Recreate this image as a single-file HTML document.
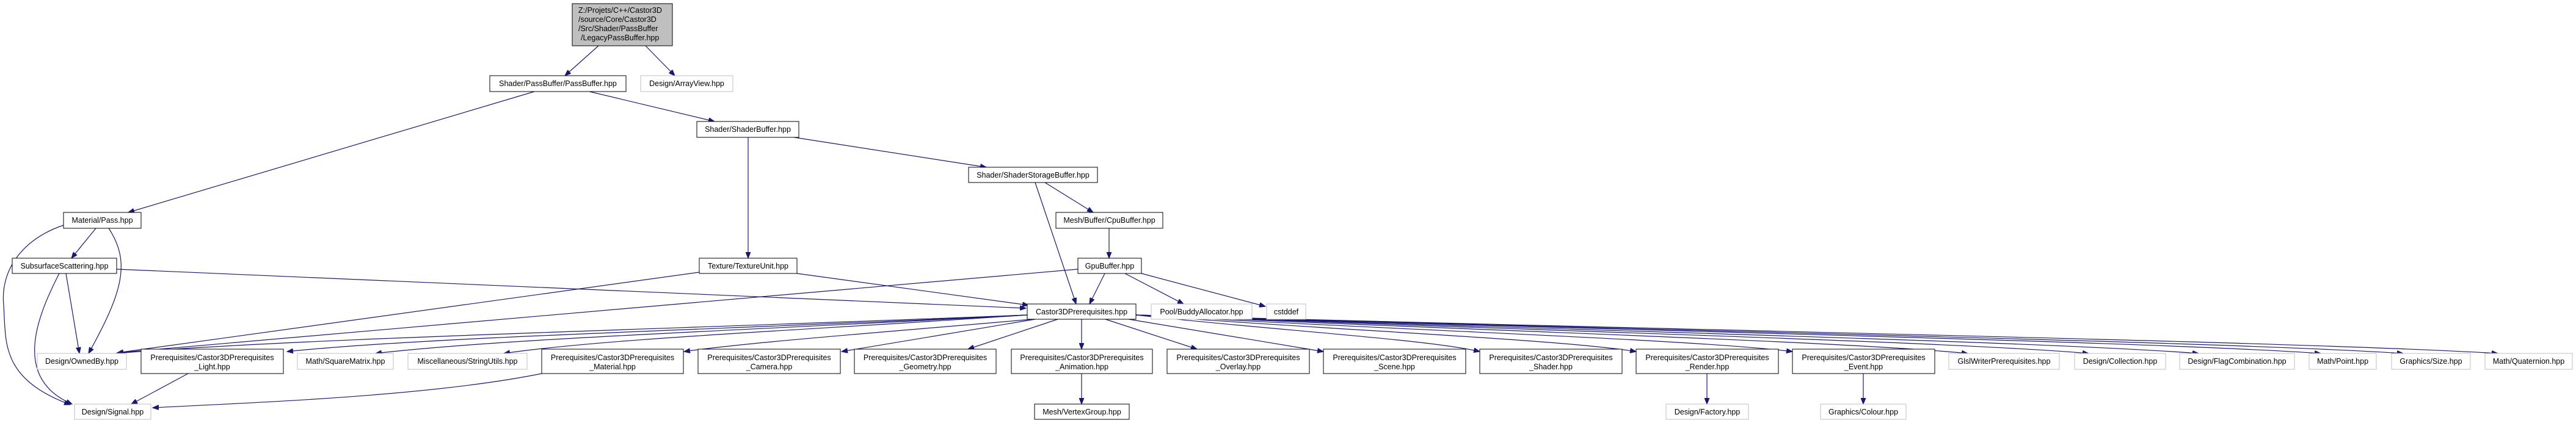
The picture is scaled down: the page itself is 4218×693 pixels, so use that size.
<!DOCTYPE html>
<html><head><meta charset="utf-8"><style>
html,body{margin:0;padding:0;background:#fff;width:4218px;height:693px;overflow:hidden}
svg{display:block}
text{font-family:"Liberation Sans",sans-serif;font-size:12.5px;fill:#000}
.b{fill:#fff;stroke:#000;stroke-width:1}
.g{fill:#fff;stroke:#bfbfbf;stroke-width:1}
.e{fill:none;stroke:#191970;stroke-width:1.2}
</style></head><body>
<svg width="4218" height="693" viewBox="0 0 4218 693" xmlns="http://www.w3.org/2000/svg">
<defs><marker id="a" markerUnits="userSpaceOnUse" markerWidth="11" markerHeight="8" refX="10" refY="4" orient="auto"><path d="M0,0 L10,4 L0,8 z" fill="#191970" stroke="#191970"/></marker></defs>
<g marker-end="url(#a)">
<path class="e" d="M980,75 L925,124"/>
<path class="e" d="M1057,75 L1105,124"/>
<path class="e" d="M965,150 L1170,199"/>
<path class="e" d="M875,150 L210,348"/>
<path class="e" d="M1225,225 L1225,423"/>
<path class="e" d="M1300,225 L1615,274"/>
<path class="e" d="M1695,299 L1762,498"/>
<path class="e" d="M1711,299 L1790,348"/>
<path class="e" d="M1816,374 L1816,423"/>
<path class="e" d="M1809,448 L1784,498"/>
<path class="e" d="M1842,448 L1938,498"/>
<path class="e" d="M1869,448 L2072,502"/>
<path class="e" d="M1765,441 L192,578"/>
<path class="e" d="M1145,446 L192,578"/>
<path class="e" d="M1305,448 L1684,500"/>
<path class="e" d="M191,441 L1680,505"/>
<path class="e" d="M157,374 L117,423"/>
<path class="e" d="M178,374 C215,430 200,480 145,579"/>
<path class="e" d="M104,369 C40,390 0,440 6,500 C10,560 0,620 115,663"/>
<path class="e" d="M108,448 L130,579"/>
<path class="e" d="M97,448 C60,520 20,620 118,662"/>
<path class="e" d="M308,612 L215,662"/>
<path class="e" d="M887,612 C700,650 400,660 250,668"/>
<path class="e" d="M1682,516 C1085,540 488,554 190,579"/>
<path class="e" d="M1682,516 C1197,540 712,551 470,576"/>
<path class="e" d="M1682,516 C1255,540 828,554 615,579"/>
<path class="e" d="M1682,516 C1339,540 996,554 825,579"/>
<path class="e" d="M1690,523 C1500,540 1230,560 1120,576"/>
<path class="e" d="M1695,523 L1378,576"/>
<path class="e" d="M1732,523 L1585,572"/>
<path class="e" d="M1771,523 L1771,572"/>
<path class="e" d="M1810,523 L1960,572"/>
<path class="e" d="M1848,523 L2167,576"/>
<path class="e" d="M1860,516 C2085,541 2339,556 2423,576"/>
<path class="e" d="M1860,516 C2188,541 2556,556 2679,576"/>
<path class="e" d="M1860,516 C2290,541 2774,556 2935,576"/>
<path class="e" d="M1860,516 C2405,541 3018,559 3222,579"/>
<path class="e" d="M1860,516 C2484,541 3186,559 3420,579"/>
<path class="e" d="M1860,516 C2556,541 3339,559 3600,579"/>
<path class="e" d="M1860,516 C2636,541 3509,559 3800,579"/>
<path class="e" d="M1860,516 C2690,541 3624,559 3935,579"/>
<path class="e" d="M1860,516 C2752,541 3755,559 4090,579"/>
<path class="e" d="M1771,612 L1771,662"/>
<path class="e" d="M2795,612 L2795,662"/>
<path class="e" d="M3051,612 L3051,662"/>
</g>
<!-- root -->
<rect x="937" y="6" width="164" height="69" fill="#bfbfbf" stroke="#000"/>
<text x="947" y="21">Z:/Projets/C++/Castor3D</text>
<text x="947" y="36">/source/Core/Castor3D</text>
<text x="947" y="51">/Src/Shader/PassBuffer</text>
<text x="951" y="66">/LegacyPassBuffer.hpp</text>
<!-- single line nodes -->
<rect class="b" x="802" y="124" width="223" height="26"/><text x="913.5" y="141" text-anchor="middle">Shader/PassBuffer/PassBuffer.hpp</text>
<rect class="g" x="1049" y="124" width="151" height="26"/><text x="1124.5" y="141" text-anchor="middle">Design/ArrayView.hpp</text>
<rect class="b" x="1141" y="199" width="167" height="26"/><text x="1224.5" y="216" text-anchor="middle">Shader/ShaderBuffer.hpp</text>
<rect class="b" x="1586" y="274" width="211" height="25"/><text x="1691.5" y="291" text-anchor="middle">Shader/ShaderStorageBuffer.hpp</text>
<rect class="b" x="1729" y="348" width="175" height="26"/><text x="1816.5" y="365" text-anchor="middle">Mesh/Buffer/CpuBuffer.hpp</text>
<rect class="b" x="104" y="348" width="127" height="26"/><text x="167.5" y="365" text-anchor="middle">Material/Pass.hpp</text>
<rect class="b" x="20" y="423" width="171" height="25"/><text x="105.5" y="440" text-anchor="middle">SubsurfaceScattering.hpp</text>
<rect class="b" x="1145" y="423" width="160" height="25"/><text x="1225" y="440" text-anchor="middle">Texture/TextureUnit.hpp</text>
<rect class="b" x="1765" y="423" width="104" height="25"/><text x="1817" y="440" text-anchor="middle">GpuBuffer.hpp</text>
<rect class="b" x="1682" y="498" width="178" height="25"/><text x="1771" y="515" text-anchor="middle">Castor3DPrerequisites.hpp</text>
<rect class="g" x="1885" y="498" width="165" height="25"/><text x="1967.5" y="515" text-anchor="middle">Pool/BuddyAllocator.hpp</text>
<rect class="g" x="2074" y="498" width="64" height="25"/><text x="2106" y="515" text-anchor="middle">cstddef</text>
<rect class="g" x="61" y="579" width="146" height="26"/><text x="134" y="596" text-anchor="middle">Design/OwnedBy.hpp</text>
<rect class="g" x="487" y="579" width="157" height="26"/><text x="565.5" y="596" text-anchor="middle">Math/SquareMatrix.hpp</text>
<rect class="g" x="668" y="579" width="195" height="26"/><text x="765.5" y="596" text-anchor="middle">Miscellaneous/StringUtils.hpp</text>
<rect class="g" x="3191" y="579" width="181" height="26"/><text x="3281.5" y="596" text-anchor="middle">GlslWriterPrerequisites.hpp</text>
<rect class="g" x="3397" y="579" width="149" height="26"/><text x="3471.5" y="596" text-anchor="middle">Design/Collection.hpp</text>
<rect class="g" x="3569" y="579" width="188" height="26"/><text x="3663" y="596" text-anchor="middle">Design/FlagCombination.hpp</text>
<rect class="g" x="3781" y="579" width="110" height="26"/><text x="3836" y="596" text-anchor="middle">Math/Point.hpp</text>
<rect class="g" x="3916" y="579" width="129" height="26"/><text x="3980.5" y="596" text-anchor="middle">Graphics/Size.hpp</text>
<rect class="g" x="4069" y="579" width="143" height="26"/><text x="4140.5" y="596" text-anchor="middle">Math/Quaternion.hpp</text>
<rect class="g" x="122" y="662" width="125" height="25"/><text x="184.5" y="679" text-anchor="middle">Design/Signal.hpp</text>
<rect class="b" x="1694" y="662" width="155" height="25"/><text x="1771.5" y="679" text-anchor="middle">Mesh/VertexGroup.hpp</text>
<rect class="g" x="2728" y="662" width="135" height="25"/><text x="2795.5" y="679" text-anchor="middle">Design/Factory.hpp</text>
<rect class="g" x="2981" y="662" width="140" height="25"/><text x="3051" y="679" text-anchor="middle">Graphics/Colour.hpp</text>
<!-- two line nodes -->
<rect class="b" x="231" y="572" width="233" height="40"/><text x="347.5" y="590" text-anchor="middle">Prerequisites/Castor3DPrerequisites</text><text x="347.5" y="605" text-anchor="middle">_Light.hpp</text>
<rect class="b" x="887" y="572" width="232" height="40"/><text x="1003" y="590" text-anchor="middle">Prerequisites/Castor3DPrerequisites</text><text x="1003" y="605" text-anchor="middle">_Material.hpp</text>
<rect class="b" x="1143" y="572" width="233" height="40"/><text x="1259.5" y="590" text-anchor="middle">Prerequisites/Castor3DPrerequisites</text><text x="1259.5" y="605" text-anchor="middle">_Camera.hpp</text>
<rect class="b" x="1399" y="572" width="232" height="40"/><text x="1515" y="590" text-anchor="middle">Prerequisites/Castor3DPrerequisites</text><text x="1515" y="605" text-anchor="middle">_Geometry.hpp</text>
<rect class="b" x="1656" y="572" width="231" height="40"/><text x="1771.5" y="590" text-anchor="middle">Prerequisites/Castor3DPrerequisites</text><text x="1771.5" y="605" text-anchor="middle">_Animation.hpp</text>
<rect class="b" x="1911" y="572" width="233" height="40"/><text x="2027.5" y="590" text-anchor="middle">Prerequisites/Castor3DPrerequisites</text><text x="2027.5" y="605" text-anchor="middle">_Overlay.hpp</text>
<rect class="b" x="2167" y="572" width="233" height="40"/><text x="2283.5" y="590" text-anchor="middle">Prerequisites/Castor3DPrerequisites</text><text x="2283.5" y="605" text-anchor="middle">_Scene.hpp</text>
<rect class="b" x="2423" y="572" width="233" height="40"/><text x="2539.5" y="590" text-anchor="middle">Prerequisites/Castor3DPrerequisites</text><text x="2539.5" y="605" text-anchor="middle">_Shader.hpp</text>
<rect class="b" x="2679" y="572" width="233" height="40"/><text x="2795.5" y="590" text-anchor="middle">Prerequisites/Castor3DPrerequisites</text><text x="2795.5" y="605" text-anchor="middle">_Render.hpp</text>
<rect class="b" x="2935" y="572" width="233" height="40"/><text x="3051.5" y="590" text-anchor="middle">Prerequisites/Castor3DPrerequisites</text><text x="3051.5" y="605" text-anchor="middle">_Event.hpp</text>
</svg>
</body></html>
